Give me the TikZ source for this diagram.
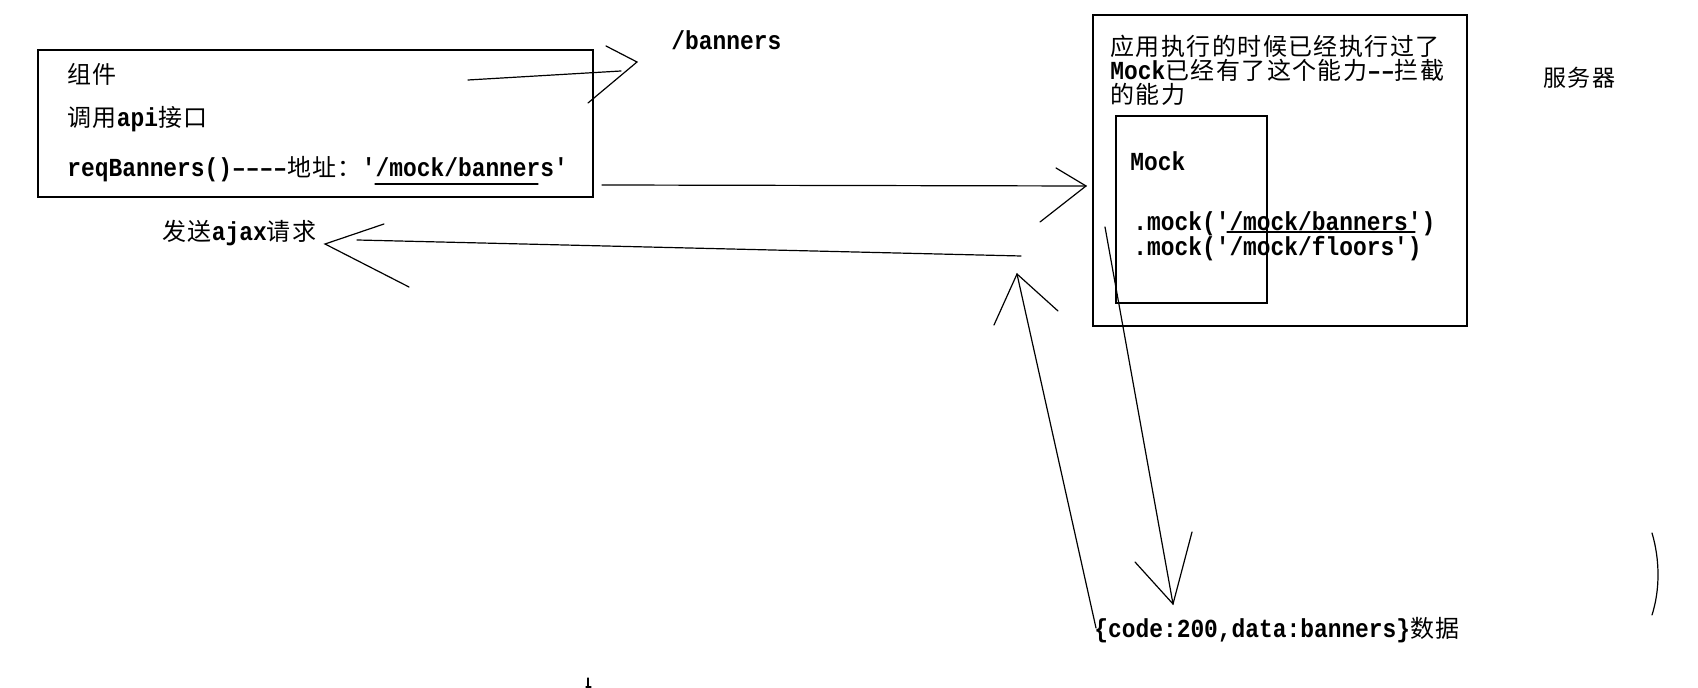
\documentclass[tikz,border=0pt]{standalone}
\usepackage{fontspec}
\newfontfamily\latfont{Liberation Mono}[Ligatures=TeXOff,FakeStretch=0.88]
\newfontfamily\zhfont{Noto Sans CJK SC}[LetterSpace=6]
\newcommand{\zh}[1]{{\zhfont\mdseries\fontsize{12}{14}\selectfont #1}}
\usetikzlibrary{positioning}
\tikzset{lbl/.style = {anchor=west, inner sep=0pt, font=\latfont\bfseries\fontsize{13}{15}\selectfont}}
\tikzset{frame/.style = {draw, line width=0.7pt}}
\tikzset{stroke/.style = {line width=0.6pt, line cap=round}}

\begin{document}
\begin{tikzpicture}[x=0.5pt, y=-0.5pt]
\useasboundingbox (0,0) rectangle (1698,688);
% boxes
\draw [frame] (38,50) rectangle (593,197);
\draw [frame] (1093,15) rectangle (1467,326);
\draw [frame] (1116,116) rectangle (1267,303);
% component box
\node [lbl] (comp) at (67,74) {\zh{组件}};
\node [lbl] (api) at (67,119) {\zh{调用}api\zh{接口}};
\node [lbl] (req) at (67,169) {reqBanners()––––\zh{地址：}'/mock/banners'};
\draw [stroke] (375,184) -- (538,184);
\node [lbl] (url) at (671,40) {/banners};
% server side
\node [lbl, align=left, font=\latfont\bfseries\fontsize{13}{12}\selectfont] (app) at (1110,70)
  {\zh{应用执行的时候已经执行过了}\\Mock\zh{已经有了这个能力}––\zh{拦截}\\\zh{的能力}};
\node [lbl] (mockt) at (1130,161) {Mock};
\node [lbl] (mk1) at (1133,224) {.mock('/mock/banners')};
\node [lbl] (mk2) at (1133,249) {.mock('/mock/floors')};
\draw [stroke] (1227,232) -- (1415,232);
\node [lbl] (srv) at (1543,78) {{\zhfont\mdseries\fontsize{11.5}{13}\selectfont 服务器}};
\node [lbl] (ajax) at (162,233) {\zh{发送}ajax\zh{请求}};
\node [lbl] (resp) at (1094,630) {\{code:200,data:banners\}\zh{数据}};
% arrow to /banners
\coordinate (aS) at (468,80); \coordinate (aE) at (621,71);
\coordinate (aT) at (637,62); \coordinate (aU) at (606,46); \coordinate (aL) at (588,103);
\draw [stroke] (aS) -- (aE);
\draw [stroke] (aU) -- (aT) -- (aL);
% request arrow
\coordinate (bS) at (602,185); \coordinate (bT) at (1086,186);
\coordinate (bU) at (1056,168); \coordinate (bL) at (1040,222);
\draw [stroke] (bS) -- (bT);
\draw [stroke] (bU) -- (bT) -- (bL);
% back to ajax
\coordinate (cS) at (1021,256); \coordinate (cE) at (357,240);
\coordinate (cT) at (325,244); \coordinate (cU) at (384,224); \coordinate (cL) at (409,287);
\draw [stroke] (cS) -- (cE);
\draw [stroke] (cU) -- (cT) -- (cL);
% response up
\coordinate (dS) at (1096,628); \coordinate (dT) at (1017,274);
\coordinate (dL) at (994,325); \coordinate (dR) at (1058,311);
\draw [stroke] (dS) -- (dT);
\draw [stroke] (dL) -- (dT) -- (dR);
% mock down
\coordinate (eS) at (1105,227); \coordinate (eT) at (1173,604);
\coordinate (eL) at (1135,562); \coordinate (eR) at (1192,532);
\draw [stroke] (eS) -- (eT);
\draw [stroke] (eL) -- (eT) -- (eR);
% loose marks
\draw [stroke] (1652,533) .. controls (1660,560) and (1660,590) .. (1652,615);
\draw [stroke] (588,678) -- (588,687);
\draw [stroke] (586,687) -- (591,687);
\end{tikzpicture}
\end{document}
